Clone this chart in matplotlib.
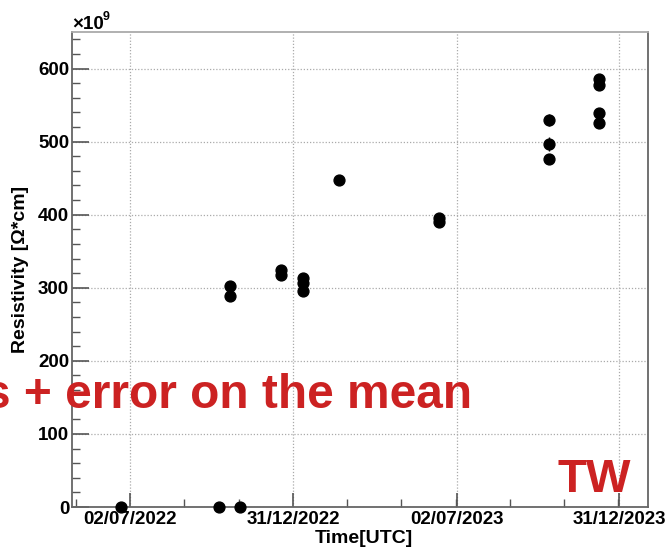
import matplotlib
matplotlib.use("Agg")
import matplotlib.pyplot as plt
import matplotlib.dates as mdates
from matplotlib.ticker import MultipleLocator, FixedLocator
import numpy as np
import datetime as dt

plt.rcParams['font.family'] = ['Liberation Sans', 'DejaVu Sans']

# ---- data (resistivity in units of 1e9 Ohm*cm) ----
dates = ["2022-06-22", "2022-10-09", "2022-11-02",
         "2022-10-22", "2022-10-22",
         "2022-12-18", "2022-12-18",
         "2023-01-11", "2023-01-11", "2023-01-11",
         "2023-02-21",
         "2023-06-12", "2023-06-12",
         "2023-10-13", "2023-10-13", "2023-10-13",
         "2023-12-08", "2023-12-08", "2023-12-08", "2023-12-08"]
values = [0, 0, 0,
          302, 289,
          324, 318,
          313, 307, 295,
          448,
          395, 390,
          530, 497, 476,
          586, 577, 539, 525]
errors = [0.5, 0.5, 0.5,
          3, 3,
          3, 3,
          3, 3, 3,
          5,
          3, 3,
          8, 10, 3,
          3, 3, 3, 3]
x_ticks = ["2022-07-02", "2022-12-31", "2023-07-02", "2023-12-31"]
x_range = ["2022-04-28", "2024-02-01"]
y_range = [0, 650]

xd = [dt.datetime.strptime(d, "%Y-%m-%d") for d in dates]
xt = [dt.datetime.strptime(d, "%Y-%m-%d") for d in x_ticks]
xr = [dt.datetime.strptime(d, "%Y-%m-%d") for d in x_range]

fig = plt.figure(figsize=(6.66, 5.48), dpi=100)
ax = fig.add_axes([72/666, 41/548, 576/666, 475/548])

ax.errorbar(xd, values, yerr=errors, fmt='o', color='black', ms=7.8,
            elinewidth=1.0, capsize=0, zorder=3, clip_on=False)

ax.set_xlim(xr)
ax.set_ylim(y_range)

# x ticks
xtn = mdates.date2num(xt)
ax.xaxis.set_major_locator(FixedLocator(xtn))
ax.xaxis.set_major_formatter(mdates.DateFormatter("%d/%m/%Y"))
step = (xtn[1] - xtn[0]) / 3.0
minor = np.arange(xtn[0] - step, xtn[-1] + 0.5 * step, step)
ax.xaxis.set_minor_locator(FixedLocator(minor))
ax.yaxis.set_major_locator(MultipleLocator(100))
ax.yaxis.set_minor_locator(MultipleLocator(20))

ax.tick_params(which='both', direction='in', colors='#555555', labelcolor='black',
               top=False, right=False)
ax.tick_params(axis='y', which='major', length=12, width=1.2, pad=2, labelsize=13.5)
ax.tick_params(axis='y', which='minor', length=6, width=1.0)
ax.tick_params(axis='x', which='major', length=10, width=1.2, pad=3, labelsize=13.5)
ax.tick_params(axis='x', which='minor', length=6, width=1.0)
for lab in ax.get_xticklabels() + ax.get_yticklabels():
    lab.set_fontweight('bold')

ax.grid(True, which='major', linestyle=(0, (1, 1.5)), color='#aaaaaa', linewidth=0.9)
ax.set_axisbelow(True)

for s in ['left', 'bottom', 'right']:
    ax.spines[s].set_color('#666666')
    ax.spines[s].set_linewidth(1.3)
ax.spines['top'].set_color('#aaaaaa')
ax.spines['top'].set_linewidth(1.3)

ax.set_xlabel("Time[UTC]", fontsize=14, fontweight='bold', labelpad=1)
ax.xaxis.set_label_coords(0.507, -0.048)
ax.xaxis.label.set_va('top')
ax.set_ylabel("Resistivity [Ω*cm]", fontsize=14, fontweight='bold')
ax.yaxis.set_label_coords(-0.075, 0.5)

fig.text(72/666, 1 - 29/548, "×10", fontsize=13.5, fontweight='bold', va='baseline')
fig.text(103/666, 1 - 20/548, "9", fontsize=9, fontweight='bold', va='baseline')

fig.text(-16/666, 1 - 408/548, "s + error on the mean", fontsize=34.5,
         fontweight='bold', color='#cc2222', va='baseline')
fig.text(557/666, 1 - 492/548, "TW", fontsize=34, fontweight='bold',
         color='#cc2222', va='baseline')

fig.savefig("out.png", dpi=100)
